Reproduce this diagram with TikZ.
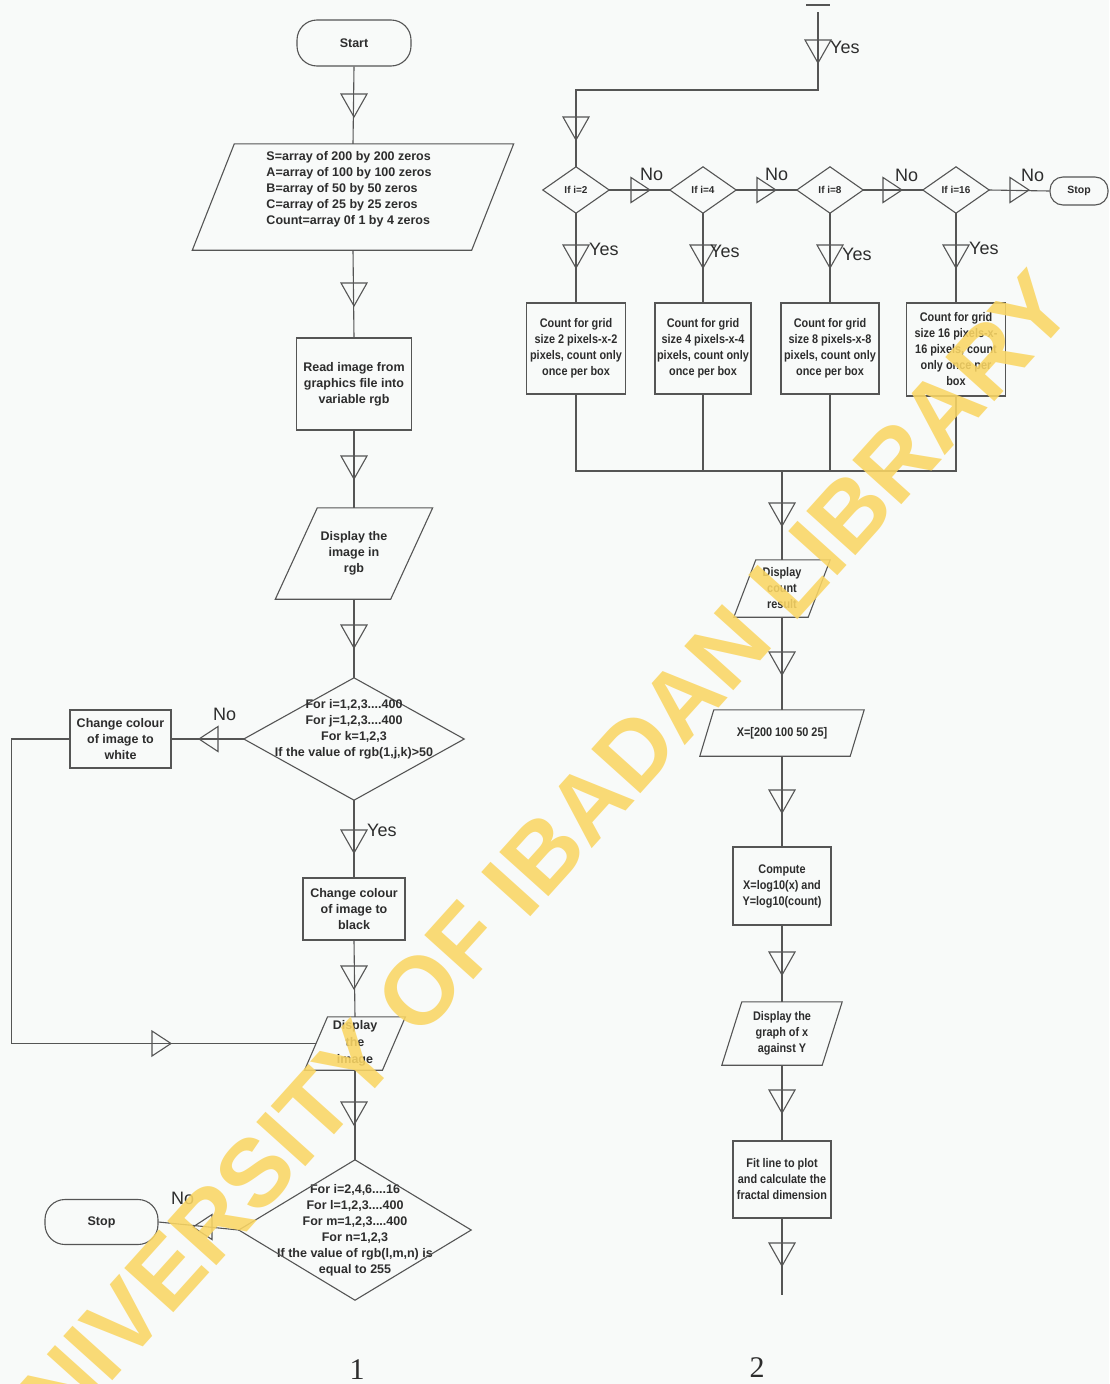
\documentclass[tikz,border=0pt]{standalone}
\usepackage{fontspec}
\setmainfont{Liberation Sans}
\newfontfamily\narrowf{Liberation Sans}[FakeStretch=0.87]
\newfontfamily\serifnum{Liberation Serif}
\definecolor{bgc}{RGB}{248,250,249}
\definecolor{linec}{RGB}{85,85,85}
\definecolor{txtc}{RGB}{45,45,45}
\definecolor{wmc}{RGB}{250,214,100}
\newcommand\drawpara[2]{\draw[conn] ([xshift=#2]#1.north west) -- ([xshift=#2]#1.north east) -- ([xshift=-#2]#1.south east) -- ([xshift=-#2]#1.south west) -- cycle;}
\newcommand\drawdia[1]{\draw[conn] (#1.north) -- (#1.east) -- (#1.south) -- (#1.west) -- cycle;}
\tikzset{
  conn/.style={draw=linec, line width=1.1pt},
  shp/.style={inner sep=0pt, align=center, text=txtc, font=\bfseries\fontsize{12.5}{16}\selectfont},
  box/.style={shp, draw=linec, line width=1.1pt},
  nshp/.style={shp, font=\narrowf\bfseries\fontsize{12.5}{16}\selectfont},
  nbox/.style={box, font=\narrowf\bfseries\fontsize{12.5}{16}\selectfont},
  term/.style={box, rounded corners=20pt},
  lbl/.style={font=\fontsize{18}{18}\selectfont, text=txtc, inner sep=0pt, anchor=base west},
  pics/tridn/.style={code={\draw[conn] (-13,0) -- (13,0) -- (0,23) -- cycle;}},
  pics/trih/.style={code={\draw[conn] (-12.5,0) -- (12.5,0) -- (0,19) -- cycle;}},
}
\begin{document}
\begin{tikzpicture}[x=1pt,y=-1pt]
\fill[bgc] (0,0) rectangle (1109,1384);
\useasboundingbox (0,0) rectangle (1109,1384);

% ---------- left column ----------
\node[term, minimum width=114pt, minimum height=46pt] (start) at (354,43) {Start};
\node[shp, minimum width=279pt, minimum height=106pt] (p1) at (353,197) {};
\drawpara{p1}{21pt}
\node[shp, align=left] (p1t) at (349,189) {S=array of 200 by 200 zeros\\A=array of 100 by 100 zeros\\B=array of 50 by 50 zeros\\C=array of 25 by 25 zeros\\Count=array 0f 1 by 4 zeros};
\node[box, minimum width=115pt, minimum height=92pt] (read) at (354,384) {Read image from\\graphics file into\\variable rgb};
\node[shp, minimum width=115pt, minimum height=91pt] (p2) at (354,553.5) {Display the\\image in\\rgb};
\drawpara{p2}{21pt}
\node[shp, minimum width=220pt, minimum height=122pt] (d1) at (354,739) {};
\drawdia{d1}
\node[shp] (d1t) at (354,729) {For i=1,2,3....400\\For j=1,2,3....400\\For k=1,2,3\\If the value of rgb(1,j,k)>50};
\node[box, minimum width=101pt, minimum height=58pt] (white) at (120.5,739) {Change colour\\of image to\\white};
\node[box, minimum width=102pt, minimum height=62pt] (black) at (354,909) {Change colour\\of image to\\black};
\node[shp, minimum width=77.5pt, minimum height=53pt, font=\bfseries\fontsize{12.5}{17}\selectfont] (p3) at (355,1043.5) {Display\\the\\image};
\drawpara{p3}{11.5pt}
\node[shp, minimum width=232pt, minimum height=140pt] (d2) at (355,1230) {For i=2,4,6....16\\For l=1,2,3....400\\For m=1,2,3....400\\For n=1,2,3\\If the value of rgb(l,m,n) is\\equal to 255};
\drawdia{d2}
\node[term, minimum width=113pt, minimum height=45pt] (stopL) at (101.5,1222) {Stop};

\draw[conn] (start.south) -- (p1.north);
\draw[conn] (p1.south) -- (read.north);
\draw[conn] (read.south) -- (p2.north);
\draw[conn] (p2.south) -- (d1.north);
\draw[conn] (d1.south) -- (black.north);
\draw[conn] (d1.west) -- (white.east);
\draw[conn] (white.west) -- ++(-58,0) |- (p3.west);
\draw[conn] (black.south) -- (p3.north);
\draw[conn] (p3.south) -- (d2.north);
\draw[conn] (d2.west) -- (stopL.east);

\foreach \yy in {94,283,456,625,830,966,1102} { \pic at (354,\yy) {tridn}; }
\pic[rotate=-90] at (218,739) {trih};
\pic[rotate=90] at (152,1043.5) {trih};
\pic[rotate=-90] at (212,1227) {trih};

\node[lbl] (yesA) at (367,836.5) {Yes};
\node[lbl] (noA) at (213,720.5) {No};
\node[lbl] (noB) at (171,1204.5) {No};

% ---------- right column ----------
\coordinate (rtop) at (818,12);
\coordinate (rbend) at (818,90);
\draw[conn] (806,5) -- (830,5);
\node[shp, minimum width=66pt, minimum height=46pt, font=\bfseries\fontsize{10}{12}\selectfont] (q1) at (576,190) {If i=2};
\node[shp, minimum width=66pt, minimum height=46pt, font=\bfseries\fontsize{10}{12}\selectfont] (q2) at (703,190) {If i=4};
\node[shp, minimum width=66pt, minimum height=46pt, font=\bfseries\fontsize{10}{12}\selectfont] (q3) at (830,190) {If i=8};
\node[shp, minimum width=66pt, minimum height=46pt, font=\bfseries\fontsize{10}{12}\selectfont] (q4) at (956,190) {If i=16};
\drawdia{q1}\drawdia{q2}\drawdia{q3}\drawdia{q4}
\node[term, rounded corners=13pt, minimum width=58pt, minimum height=28pt, font=\bfseries\fontsize{10.5}{12}\selectfont] (stopR) at (1079,191) {Stop};

\node[nbox, minimum width=99pt, minimum height=91pt] (c1) at (576,348.5) {Count for grid\\size 2 pixels-x-2\\pixels, count only\\once per box};
\node[nbox, minimum width=96pt, minimum height=91pt] (c2) at (703,348.5) {Count for grid\\size 4 pixels-x-4\\pixels, count only\\once per box};
\node[nbox, minimum width=98pt, minimum height=91pt] (c3) at (830,348.5) {Count for grid\\size 8 pixels-x-8\\pixels, count only\\once per box};
\node[nbox, minimum width=99pt, minimum height=93pt] (c4) at (956,349.5) {Count for grid\\size 16 pixels-x-\\16 pixels, count\\only once per\\box};
\coordinate (jn) at (782,471);

\node[nshp, minimum width=74pt, minimum height=57pt] (p4) at (782,588.5) {Display\\count\\result};
\drawpara{p4}{11pt}
\node[nshp, minimum width=150pt, minimum height=46pt] (p5) at (782,733) {X=[200 100 50 25]};
\drawpara{p5}{7pt}
\node[nbox, minimum width=98pt, minimum height=78pt] (comp) at (782,886) {Compute\\X=log10(x) and\\Y=log10(count)};
\node[nshp, minimum width=100pt, minimum height=63pt] (p6) at (782,1033.5) {Display the\\graph of x\\against Y};
\drawpara{p6}{10pt}
\node[nbox, minimum width=98pt, minimum height=77pt] (fit) at (782,1179.5) {Fit line to plot\\and calculate the\\fractal dimension};
\coordinate (rend) at (782,1295);

\draw[conn] (rtop) -- (rbend) -| (q1.north);
\draw[conn] (q1.east) -- (q2.west);
\draw[conn] (q2.east) -- (q3.west);
\draw[conn] (q3.east) -- (q4.west);
\draw[conn] (q4.east) -- (stopR.west);
\draw[conn] (q1.south) -- (c1.north);
\draw[conn] (q2.south) -- (c2.north);
\draw[conn] (q3.south) -- (c3.north);
\draw[conn] (q4.south) -- (c4.north);
\draw[conn] (c1.south) |- (jn);
\draw[conn] (c2.south) |- (jn);
\draw[conn] (c3.south) |- (jn);
\draw[conn] (c4.south) |- (jn);
\draw[conn] (jn) -- (p4.north);
\draw[conn] (p4.south) -- (p5.north);
\draw[conn] (p5.south) -- (comp.north);
\draw[conn] (comp.south) -- (p6.north);
\draw[conn] (p6.south) -- (fit.north);
\draw[conn] (fit.south) -- (rend);

\pic at (818,40) {tridn};
\pic at (576,117) {tridn};
\foreach \xx in {576,703,830,956} { \pic at (\xx,245) {tridn}; }
\foreach \yy in {503,652,790,952,1090,1243} { \pic at (782,\yy) {tridn}; }
\foreach \xx in {631,757,883,1010} { \pic[rotate=90] at (\xx,190) {trih}; }

\node[lbl] (yesT) at (830,53.5) {Yes};
\node[lbl] (yes1) at (589,255.5) {Yes};
\node[lbl] (yes2) at (710,257.5) {Yes};
\node[lbl] (yes3) at (842,260.5) {Yes};
\node[lbl] (yes4) at (969,254.5) {Yes};
\node[lbl] (no1) at (640,180.5) {No};
\node[lbl] (no2) at (765,180.5) {No};
\node[lbl] (no3) at (895,181.5) {No};
\node[lbl] (no4) at (1021,181.5) {No};

% ---------- numbers ----------
\node[font=\serifnum\fontsize{30}{30}\selectfont, text=txtc, inner sep=0pt] (num1) at (357,1370) {1};
\node[font=\serifnum\fontsize{30}{30}\selectfont, text=txtc, inner sep=0pt] (num2) at (757,1368) {2};

% ---------- watermark ----------
\node[font=\bfseries\fontsize{96}{96}\selectfont, text=wmc, opacity=0.88, rotate=48, inner sep=0pt] (wmark) at (522,877) {UNIVERSITY OF IBADAN LIBRARY};
\end{tikzpicture}
\end{document}
